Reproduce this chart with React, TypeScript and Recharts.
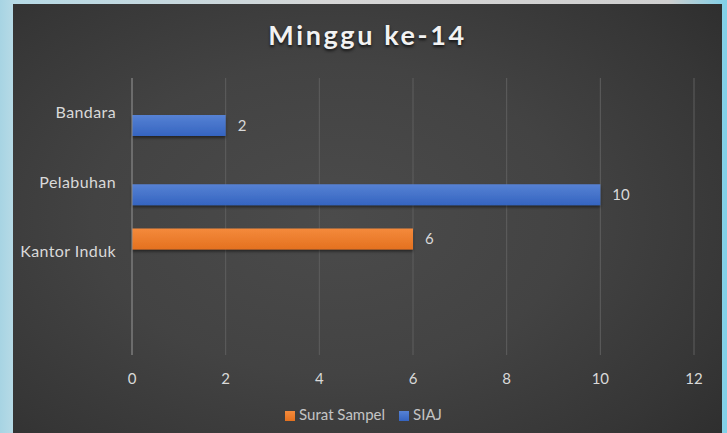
import { BarChart, Bar, XAxis, YAxis, CartesianGrid, Legend, LabelList } from "recharts";

const categories = ["Bandara", "Pelabuhan", "Kantor Induk", ""];
const suratSampel = [null, null, 6, null];
const siaj = [2, 10, null, null];
const xTicks = [0, 2, 4, 6, 8, 10, 12];
const seriesOrder = ["Surat Sampel", "SIAJ"];

const data = categories.map((name, i) => ({
  name,
  "Surat Sampel": suratSampel[i],
  SIAJ: siaj[i],
}));

const font = "Lato, 'Open Sans', sans-serif";

export default function App() {
  return (
    <div
      style={{
        position: "absolute",
        left: 0,
        top: 0,
        width: 727,
        height: 433,
        overflow: "hidden",
        background:
          "linear-gradient(90deg, #a7d4e3 0px, #b6dae6 13px, #d6d6d6 45%, #cfcfcf 92%, #7fd0e8 100%)",
      }}
    >
      <div
        style={{
          position: "absolute",
          left: 13,
          top: 4,
          width: 709,
          height: 429,
          background:
            "radial-gradient(ellipse 75% 80% at 45% 50%, #4b4b4b 0%, #434343 45%, #363636 80%, #2d2d2d 100%)",
        }}
      >
        <div
          style={{
            position: "absolute",
            top: 14,
            left: 0,
            width: 709,
            textAlign: "center",
            fontFamily: font,
            fontWeight: 700,
            fontSize: 27,
            letterSpacing: 2.6,
            color: "#f2f2f2",
            textShadow: "0 2px 3px rgba(0,0,0,0.7)",
          }}
        >
          Minggu ke-14
        </div>
        <BarChart
          width={709}
          height={429}
          data={data}
          layout="vertical"
          margin={{ top: 74, right: 28, left: 14, bottom: 26 }}
          barSize={21}
          barGap={4}
          style={{ position: "absolute", left: 0, top: 0 }}
        >
          <defs>
            <filter id="barShadow" x="-5%" y="-30%" width="110%" height="180%">
              <feDropShadow dx="0" dy="2" stdDeviation="1.5" floodColor="#000" floodOpacity="0.5" />
            </filter>
            <linearGradient id="blueFill" x1="0" y1="0" x2="0" y2="1">
              <stop offset="0%" stopColor="#5682d4" />
              <stop offset="100%" stopColor="#3564c0" />
            </linearGradient>
            <linearGradient id="orangeFill" x1="0" y1="0" x2="0" y2="1">
              <stop offset="0%" stopColor="#f48a3c" />
              <stop offset="100%" stopColor="#e4711f" />
            </linearGradient>
          </defs>
          <CartesianGrid horizontal={false} stroke="#5e5e5e" strokeWidth={1} />
          <XAxis
            type="number"
            domain={[0, 12]}
            ticks={xTicks}
            axisLine={false}
            tickLine={false}
            tickSize={0}
            tickMargin={18}
            height={30}
            tick={{ fill: "#d9d9d9", fontSize: 15, fontFamily: font }}
          />
          <YAxis
            type="category"
            dataKey="name"
            width={105}
            axisLine={{ stroke: "#8a8a8a" }}
            tickLine={false}
            tickSize={0}
            tickMargin={16}
            interval={0}
            tick={{ fill: "#d9d9d9", fontSize: 16, fontFamily: font, letterSpacing: 0.4 }}
          />
          <Legend
            verticalAlign="bottom"
            align="center"
            iconType="square"
            iconSize={10}
            height={22}
            wrapperStyle={{ bottom: 6, left: 24 }}
            itemSorter={(item: { value: string }) => seriesOrder.indexOf(item.value)}
            formatter={(value: string) => (
              <span style={{ color: "#c4c4c4", fontSize: 15, fontFamily: font, marginRight: 4 }}>
                {value}
              </span>
            )}
          />
          <Bar
            dataKey="Surat Sampel"
            fill="url(#orangeFill)"
            legendType="square"
            filter="url(#barShadow)"
            isAnimationActive={false}
          >
            <LabelList
              dataKey="Surat Sampel"
              position="right"
              offset={12}
              style={{ fill: "#d9d9d9", fontSize: 15, fontFamily: font }}
            />
          </Bar>
          <Bar
            dataKey="SIAJ"
            fill="url(#blueFill)"
            legendType="square"
            filter="url(#barShadow)"
            isAnimationActive={false}
          >
            <LabelList
              dataKey="SIAJ"
              position="right"
              offset={12}
              style={{ fill: "#d9d9d9", fontSize: 15, fontFamily: font }}
            />
          </Bar>
        </BarChart>
      </div>
    </div>
  );
}
